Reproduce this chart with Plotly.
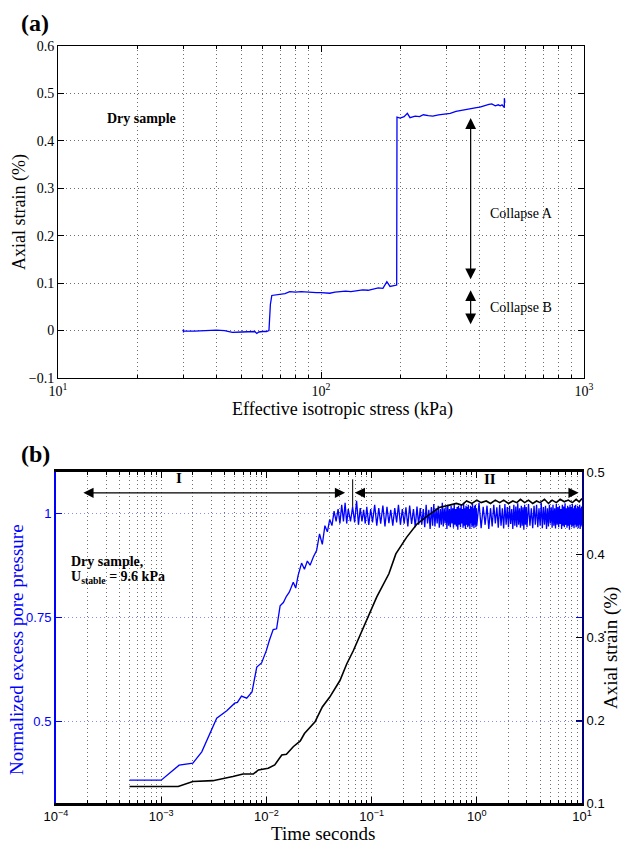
import plotly.graph_objects as go

W, H = 624, 845

# ---------------- Panel (a) data ----------------
stress_kpa = [30, 30, 30, 33, 36, 40, 43, 46, 50, 53, 56, 57, 58, 60, 62,
              63.4, 64.2, 65, 67, 70, 73, 76, 80, 84, 88, 92, 96, 100,
              104, 108, 113, 118, 124, 130, 137, 144, 151, 158, 165, 172, 178, 183, 188, 194,
              194.5, 200, 207, 213, 218, 228, 237, 245, 256, 266, 280, 295, 310, 326, 340,
              357, 375, 390, 402, 420, 435, 446, 460, 472, 480, 488, 495, 498, 498, 500]
strain_a = [-0.004, 0.003, -0.001, -0.001, 0.0, 0.001, 0.0, -0.004, -0.003, -0.003, -0.002, -0.006, -0.003, -0.002, -0.002,
            0.0, 0.055, 0.074, 0.075, 0.076, 0.078, 0.082, 0.081, 0.082, 0.081, 0.081, 0.080, 0.080,
            0.079, 0.0787, 0.081, 0.082, 0.083, 0.082, 0.084, 0.086, 0.085, 0.087, 0.090, 0.089, 0.103, 0.093, 0.094, 0.096,
            0.450, 0.448, 0.451, 0.458, 0.449, 0.452, 0.451, 0.455, 0.453, 0.452, 0.455, 0.457, 0.458, 0.462, 0.464,
            0.467, 0.468, 0.470, 0.471, 0.475, 0.477, 0.478, 0.474, 0.476, 0.474, 0.476, 0.473, 0.470, 0.490, 0.480]

a_xtick_vals = [10, 100, 1000]
a_xtick_text = ["10<sup>1</sup>", "10<sup>2</sup>", "10<sup>3</sup>"]
a_ytick_vals = [-0.1, 0, 0.1, 0.2, 0.3, 0.4, 0.5, 0.6]
a_ytick_text = ["\u22120.1", "0", "0.1", "0.2", "0.3", "0.4", "0.5", "0.6"]

# ---------------- Panel (b) data ----------------
# rise + transition section
t_pp_rise = [5e-4, 1.0e-3, 1.48e-3, 2.0e-3, 2.43e-3, 3.37e-3, 4.2e-3, 5.0e-3, 5.3e-3, 5.8e-3,
             6.5e-3, 7.3e-3, 8.1e-3, 9.0e-3, 1.0e-2, 1.07e-2, 1.16e-2, 1.25e-2, 1.35e-2, 1.45e-2,
             1.55e-2, 1.65e-2, 1.8e-2, 1.9e-2, 2.0e-2, 2.16e-2, 2.3e-2, 2.45e-2, 2.6e-2, 2.8e-2,
             3.0e-2, 3.2e-2, 3.4e-2, 3.6e-2, 3.8e-2,
             0.040, 0.042, 0.044, 0.046, 0.048, 0.050, 0.052, 0.054, 0.056, 0.058,
             0.060, 0.063, 0.066, 0.069, 0.072, 0.075, 0.078, 0.081, 0.084, 0.087,
             0.090, 0.094, 0.098, 0.102, 0.107, 0.112, 0.117, 0.122, 0.128, 0.134,
             0.140, 0.146, 0.152, 0.159, 0.166, 0.173, 0.180, 0.188, 0.196, 0.204,
             0.212, 0.221, 0.230, 0.240, 0.250, 0.260, 0.270, 0.280, 0.290]
pp_rise = [0.358, 0.358, 0.394, 0.399, 0.426, 0.507, 0.525, 0.543, 0.545, 0.560,
           0.555, 0.570, 0.630, 0.640, 0.670, 0.695, 0.720, 0.722, 0.777, 0.785,
           0.800, 0.810, 0.834, 0.820, 0.850, 0.880, 0.865, 0.885, 0.875, 0.895,
           0.910, 0.950, 0.925, 0.970, 0.955,
           0.985, 0.970, 1.005, 0.980, 1.010, 0.975, 1.020, 0.980, 1.025, 0.975,
           1.010, 0.980, 1.015, 0.978, 1.030, 0.972, 1.012, 0.980, 1.008, 0.975,
           1.015, 0.972, 1.010, 0.978, 1.020, 0.970, 1.012, 0.975, 1.018, 0.968,
           1.015, 0.976, 1.008, 0.970, 1.012, 0.978, 1.020, 0.972, 1.010, 0.975,
           1.014, 0.968, 1.018, 0.974, 1.010, 0.966, 1.016, 0.972, 1.012]
# dense oscillating section (0.3 s .. 10 s)
t_pp_band = [0.30, 0.31, 0.32, 0.33, 0.34, 0.35, 0.36, 0.37, 0.38, 0.39,
             0.40, 0.41, 0.42, 0.43, 0.44, 0.45, 0.46, 0.47, 0.48, 0.49,
             0.50, 0.51, 0.52, 0.53, 0.54, 0.55, 0.56, 0.57, 0.58, 0.59,
             0.60, 0.61, 0.62, 0.63, 0.64, 0.65, 0.66, 0.67, 0.68, 0.69,
             0.70, 0.71, 0.72, 0.73, 0.74, 0.75, 0.76, 0.77, 0.78, 0.79,
             0.80, 0.81, 0.82, 0.83, 0.84, 0.85, 0.86, 0.87, 0.88, 0.89,
             0.90, 0.91, 0.92, 0.93, 0.94, 0.95, 0.96, 0.97, 0.98, 0.99,
             1.00, 1.05, 1.10, 1.15, 1.20, 1.25, 1.30, 1.35, 1.40, 1.45,
             1.50, 1.55, 1.60, 1.65, 1.70, 1.75, 1.80, 1.85, 1.90, 1.95,
             2.00, 2.05, 2.10, 2.15, 2.20, 2.25, 2.30, 2.35, 2.40, 2.45,
             2.50, 2.55, 2.60, 2.65, 2.70, 2.75, 2.80, 2.85, 2.90, 2.95,
             3.0, 3.1, 3.2, 3.3, 3.4, 3.5, 3.6, 3.7, 3.8, 3.9,
             4.0, 4.1, 4.2, 4.3, 4.4, 4.5, 4.6, 4.7, 4.8, 4.9,
             5.0, 5.1, 5.2, 5.3, 5.4, 5.5, 5.6, 5.7, 5.8, 5.9,
             6.0, 6.1, 6.2, 6.3, 6.4, 6.5, 6.6, 6.7, 6.8, 6.9,
             7.0, 7.1, 7.2, 7.3, 7.4, 7.5, 7.6, 7.7, 7.8, 7.9,
             8.0, 8.1, 8.2, 8.3, 8.4, 8.5, 8.6, 8.7, 8.8, 8.9,
             9.0, 9.1, 9.2, 9.3, 9.4, 9.5, 9.6, 9.7, 9.8, 9.9, 10.0]
pp_band = [0.972, 1.010, 0.966, 1.020, 0.975, 1.008, 0.962, 1.015, 0.970, 1.022,
           0.968, 1.012, 0.975, 1.018, 0.965, 1.010, 0.972, 1.025, 0.968, 1.012,
           0.975, 1.015, 0.962, 1.020, 0.970, 1.010, 0.966, 1.018, 0.975, 1.012,
           0.965, 1.022, 0.972, 1.010, 0.968, 1.015, 0.960, 1.018, 0.972, 1.012,
           0.966, 1.020, 0.975, 1.010, 0.965, 1.025, 0.970, 1.012, 0.962, 1.018,
           0.972, 1.015, 0.966, 1.020, 0.970, 1.010, 0.962, 1.018, 0.975, 1.015,
           0.966, 1.022, 0.970, 1.012, 0.964, 1.018, 0.972, 1.020, 0.966, 1.012,
           0.970, 1.025, 0.964, 1.015, 0.972, 1.018, 0.962, 1.012, 0.968, 1.020,
           0.975, 1.014, 0.965, 1.020, 0.970, 1.012, 0.963, 1.022, 0.972, 1.015,
           0.966, 1.018, 0.974, 1.010, 0.962, 1.020, 0.970, 1.016, 0.966, 1.024,
           0.972, 1.012, 0.965, 1.018, 0.970, 1.014, 0.960, 1.020, 0.972, 1.015,
           0.966, 1.022, 0.970, 1.012, 0.964, 1.018, 0.972, 1.020, 0.966, 1.012,
           0.970, 1.025, 0.964, 1.015, 0.972, 1.018, 0.962, 1.012, 0.968, 1.020,
           0.975, 1.014, 0.965, 1.020, 0.970, 1.012, 0.963, 1.022, 0.972, 1.015,
           0.966, 1.018, 0.974, 1.010, 0.962, 1.020, 0.970, 1.016, 0.966, 1.024,
           0.972, 1.012, 0.965, 1.018, 0.970, 1.014, 0.960, 1.020, 0.972, 1.015,
           0.966, 1.022, 0.970, 1.012, 0.964, 1.018, 0.972, 1.020, 0.966, 1.012,
           0.970, 1.018, 0.964, 1.015, 0.972, 1.020, 0.962, 1.012, 0.968, 1.016, 0.972]
t_pp = t_pp_rise + t_pp_band
pore_pressure = pp_rise + pp_band

t_strain = [5e-4, 1.0e-3, 1.45e-3, 2.0e-3, 3.1e-3, 4.8e-3, 6.0e-3, 7.5e-3, 8.4e-3, 1.04e-2,
            1.2e-2, 1.4e-2, 1.55e-2, 1.8e-2, 2.1e-2, 2.3e-2, 2.9e-2, 3.4e-2, 4.0e-2, 5.0e-2,
            5.8e-2, 6.7e-2, 8.0e-2, 9.0e-2, 0.112, 0.146, 0.17, 0.215, 0.27, 0.34,
            0.44, 0.55, 0.64, 0.72, 0.8, 0.9, 1.0, 1.1, 1.23, 1.35,
            1.5, 1.65, 1.8, 2.0, 2.2, 2.4, 2.6, 2.85, 3.1, 3.4,
            3.7, 4.0, 4.4, 4.8, 5.2, 5.7, 6.2, 6.8, 7.4, 8.1,
            8.8, 9.4, 10.0]
strain_b = [0.120, 0.120, 0.120, 0.126, 0.127, 0.132, 0.135, 0.135, 0.140, 0.142,
            0.146, 0.158, 0.159, 0.168, 0.175, 0.184, 0.198, 0.216, 0.228, 0.248,
            0.268, 0.284, 0.306, 0.322, 0.349, 0.377, 0.401, 0.421, 0.437, 0.447,
            0.457, 0.460, 0.462, 0.460, 0.465, 0.462, 0.466, 0.463, 0.465, 0.462,
            0.466, 0.463, 0.466, 0.462, 0.465, 0.463, 0.467, 0.463, 0.466, 0.462,
            0.465, 0.463, 0.467, 0.462, 0.466, 0.463, 0.467, 0.464, 0.466, 0.463,
            0.467, 0.464, 0.468]

b_xtick_vals = [1e-4, 1e-3, 1e-2, 1e-1, 1e0, 1e1]
b_xtick_text = ["10<sup>\u22124</sup>", "10<sup>\u22123</sup>", "10<sup>\u22122</sup>",
                "10<sup>\u22121</sup>", "10<sup>0</sup>", "10<sup>1</sup>"]
b_yl_vals = [0.5, 0.75, 1.0]
b_yl_text = ["0.5", "0.75", "1"]
b_yr_vals = [0.1, 0.2, 0.3, 0.4, 0.5]
b_yr_text = ["0.1", "0.2", "0.3", "0.4", "0.5"]

# minor log tick positions
minor_a = [k * 10 ** e for e in (1, 2) for k in range(2, 10)]
minor_b = [k * 10.0 ** e for e in (-4, -3, -2, -1, 0) for k in range(2, 10)]

SERIF = "Times New Roman, Liberation Serif, serif"
SANS = "Arial, Liberation Sans, sans-serif"
GRID = "#707070"
DOT = "1px,3px"

def px_x(p):
    return p / W

def px_y(p):
    return 1 - p / H

fig = go.Figure()
fig.add_trace(go.Scatter(x=stress_kpa, y=strain_a, mode="lines", xaxis="x", yaxis="y",
                         line=dict(color="#0000ff", width=1.3), showlegend=False))
fig.add_trace(go.Scatter(x=t_pp, y=pore_pressure, mode="lines", xaxis="x2", yaxis="y2",
                         line=dict(color="#0000ff", width=1.3, simplify=False), showlegend=False))
fig.add_trace(go.Scatter(x=t_strain, y=strain_b, mode="lines", xaxis="x2", yaxis="y3",
                         line=dict(color="black", width=1.6), showlegend=False))

fig.update_layout(
    width=W, height=H, autosize=False,
    margin=dict(l=0, r=0, t=0, b=0, pad=0),
    paper_bgcolor="white", plot_bgcolor="white",
    font=dict(family=SERIF, color="black"),
    showlegend=False,
    xaxis=dict(type="log", range=[1, 3], domain=[px_x(58), px_x(584)], anchor="y", automargin=False,
               showline=True, linecolor="black", linewidth=1, mirror="ticks",
               ticks="inside", ticklen=6, tickcolor="black",
               tickmode="array", tickvals=a_xtick_vals, ticktext=a_xtick_text,
               tickfont=dict(family=SERIF, size=14, color="black"),
               showgrid=True, gridcolor=GRID, griddash=DOT, gridwidth=1, zeroline=False,
               minor=dict(tickmode="array", tickvals=minor_a, ticks="inside", ticklen=3,
                          tickcolor="black", showgrid=True, gridcolor=GRID, griddash=DOT)),
    yaxis=dict(range=[-0.1, 0.6], domain=[px_y(378), px_y(46)], anchor="x", automargin=False,
               showline=True, linecolor="black", linewidth=1, mirror="ticks",
               ticks="inside", ticklen=6, tickcolor="black",
               tickmode="array", tickvals=a_ytick_vals, ticktext=a_ytick_text,
               tickfont=dict(family=SERIF, size=14, color="black"),
               showgrid=True, gridcolor=GRID, griddash=DOT, gridwidth=1, zeroline=False),
    xaxis2=dict(type="log", range=[-4, 1], domain=[px_x(56), px_x(582)], anchor="y2", automargin=False,
                showline=True, linecolor="black", linewidth=2.5, mirror="ticks",
                ticks="inside", ticklen=6, tickcolor="black",
                tickmode="array", tickvals=b_xtick_vals, ticktext=b_xtick_text,
                tickfont=dict(family=SANS, size=13, color="black"),
                showgrid=True, gridcolor=GRID, griddash=DOT, gridwidth=1, zeroline=False,
                minor=dict(tickmode="array", tickvals=minor_b, ticks="inside", ticklen=3,
                           tickcolor="black", showgrid=True, gridcolor=GRID, griddash=DOT)),
    yaxis2=dict(range=[0.303, 1.099], domain=[px_y(803), px_y(472)], anchor="x2", automargin=False,
                showline=True, linecolor="#0000ff", linewidth=2, mirror="ticks",
                ticks="inside", ticklen=6, tickcolor="#0000ff",
                tickmode="array", tickvals=b_yl_vals, ticktext=b_yl_text,
                tickfont=dict(family=SANS, size=13, color="#0000ff"),
                showgrid=True, gridcolor="#8c8cff", griddash=DOT, gridwidth=1, zeroline=False),
    yaxis3=dict(range=[0.1, 0.5], overlaying="y2", side="right", anchor="x2", automargin=False,
                showline=True, linecolor="#00007f", linewidth=2,
                ticks="inside", ticklen=6, tickcolor="black",
                tickmode="array", tickvals=b_yr_vals, ticktext=b_yr_text,
                tickfont=dict(family=SANS, size=13, color="black"),
                showgrid=False, zeroline=False),
)

ann = []
# panel labels
ann.append(dict(text="<b>(a)</b>", xref="paper", yref="paper", x=px_x(19), y=px_y(23),
                xanchor="left", yanchor="middle", showarrow=False, font=dict(size=24, family=SERIF)))
ann.append(dict(text="<b>(b)</b>", xref="paper", yref="paper", x=px_x(19), y=px_y(454),
                xanchor="left", yanchor="middle", showarrow=False, font=dict(size=24, family=SERIF)))
# axis titles
ann.append(dict(text="Effective isotropic stress (kPa)", xref="paper", yref="paper",
                x=px_x(342), y=px_y(409), showarrow=False, xanchor="center", yanchor="middle",
                font=dict(size=18, family=SERIF)))
ann.append(dict(text="Axial strain (%)", xref="paper", yref="paper", textangle=-90,
                x=px_x(19), y=px_y(212), showarrow=False, xanchor="center", yanchor="middle",
                font=dict(size=18, family=SERIF)))
ann.append(dict(text="Time seconds", xref="paper", yref="paper",
                x=px_x(323), y=px_y(833), showarrow=False, xanchor="center", yanchor="middle",
                font=dict(size=19, family=SERIF)))
ann.append(dict(text="Normalized excess pore pressure", xref="paper", yref="paper", textangle=-90,
                x=px_x(16), y=px_y(650), showarrow=False, xanchor="center", yanchor="middle",
                font=dict(size=19, family=SERIF, color="#0000ff")))
ann.append(dict(text="Axial strain (%)", xref="paper", yref="paper", textangle=-90,
                x=px_x(611), y=px_y(648), showarrow=False, xanchor="center", yanchor="middle",
                font=dict(size=19, family=SERIF)))

# panel (a) annotations (log axis -> log10 units for x)
ann.append(dict(text="<b>Dry sample</b>", xref="x", yref="y", x=1.179, y=0.448,
                xanchor="left", yanchor="middle", showarrow=False, font=dict(size=14, family=SERIF)))
ann.append(dict(text="Collapse A", xref="x", yref="y", x=2.636, y=0.247,
                xanchor="left", yanchor="middle", showarrow=False, font=dict(size=14, family=SERIF)))
ann.append(dict(text="Collapse B", xref="x", yref="y", x=2.636, y=0.049,
                xanchor="left", yanchor="middle", showarrow=False, font=dict(size=14, family=SERIF)))
for y0, y1 in [(0.105, 0.448), (0.010, 0.085)]:
    ann.append(dict(text="", xref="x", yref="y", axref="x", ayref="y",
                    x=2.569, y=y1, ax=2.569, ay=y0, showarrow=True,
                    arrowhead=2, startarrowhead=2, arrowside="end+start",
                    arrowsize=1.8, startarrowsize=1.8, arrowwidth=1.2, arrowcolor="black",
                    standoff=0, startstandoff=0))

# panel (b) annotations
ann.append(dict(text="", xref="x2", yref="y2", axref="x2", ayref="y2",
                x=-1.252, y=1.049, ax=-3.754, ay=1.049, showarrow=True,
                arrowhead=2, startarrowhead=2, arrowside="end+start",
                arrowsize=1.7, startarrowsize=1.7, arrowwidth=1.2, arrowcolor="black"))
ann.append(dict(text="", xref="x2", yref="y2", axref="x2", ayref="y2",
                x=0.968, y=1.049, ax=-1.174, ay=1.049, showarrow=True,
                arrowhead=2, startarrowhead=2, arrowside="end+start",
                arrowsize=1.7, startarrowsize=1.7, arrowwidth=1.2, arrowcolor="black"))
ann.append(dict(text="", xref="x2", yref="y2", axref="x2", ayref="y2",
                x=-1.18, y=1.015, ax=-1.18, ay=1.085, showarrow=True,
                arrowhead=0, arrowwidth=1, arrowcolor="black"))
ann.append(dict(text="<b>I</b>", xref="x2", yref="y2", x=-2.83, y=1.084,
                showarrow=False, font=dict(size=15, family=SERIF)))
ann.append(dict(text="<b>II</b>", xref="x2", yref="y2", x=0.124, y=1.083,
                showarrow=False, font=dict(size=15, family=SERIF)))
ann.append(dict(text="<b>Dry sample,</b>", xref="x2", yref="y2", x=-3.876, y=0.883,
                xanchor="left", yanchor="middle", showarrow=False, font=dict(size=14, family=SERIF)))
ann.append(dict(text="<b>U<sub>stable</sub> = 9.6 kPa</b>", xref="x2", yref="y2", x=-3.876, y=0.846,
                xanchor="left", yanchor="middle", showarrow=False, font=dict(size=14, family=SERIF)))

fig.update_layout(annotations=ann)
fig.write_html("out.html")
